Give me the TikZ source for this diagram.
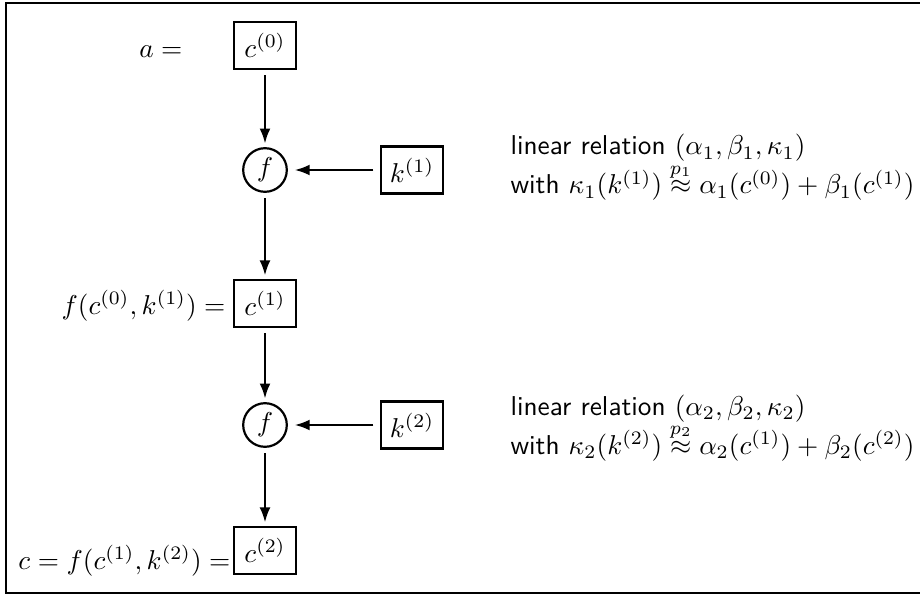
\documentclass[tikz,border=0pt]{standalone}
\usepackage{amsmath}
\usetikzlibrary{arrows.meta}
\begin{document}
\begin{tikzpicture}[x=0.3667pt,y=-0.3667pt,
  box/.style={draw,line width=0.8pt,minimum width=23pt,minimum height=17.2pt,inner sep=2pt},
  fnode/.style={draw,circle,line width=0.8pt,inner sep=1.2pt,minimum size=16pt},
  flow/.style={line width=0.8pt,-{Latex[length=5.5pt,width=4pt]},shorten <=2pt,shorten >=1.3pt},
  side/.style={line width=0.8pt,-{Latex[length=5.5pt,width=4pt]},shorten <=2.3pt,shorten >=2.5pt},
  lab/.style={anchor=base east,inner sep=0pt},
  rel/.style={anchor=base west,inner sep=0pt,font=\sffamily}]
\useasboundingbox (0,0) rectangle (920,597);
\clip (0,0) rectangle (920,597);
\draw[line width=0.8pt] (6,3) rectangle (960,593);

\node[box] (c0) at (265,45.5) {$c^{(0)}$};
\node[fnode] (f1) at (265,170) {$f$};
\node[box] (k1) at (412,170) {$k^{(1)}$};
\node[box] (c1) at (265,303.5) {$c^{(1)}$};
\node[fnode] (f2) at (265,425) {$f$};
\node[box] (k2) at (412,425) {$k^{(2)}$};
\node[box] (c2) at (265,550.5) {$c^{(2)}$};

\node[lab] (l0) at (183,58) {$a =$};
\node[lab] (l1) at (226,314) {$f(c^{(0)},k^{(1)}) =$};
\node[lab] (l2) at (231,569) {$c = f(c^{(1)},k^{(2)}) =$};

\draw[flow] (c0) -- (f1);
\draw[flow] (f1) -- (c1);
\draw[flow] (c1) -- (f2);
\draw[flow] (f2) -- (c2);
\draw[side] (k1) -- (f1);
\draw[side] (k2) -- (f2);

\node[rel] (r1a) at (510,155) {linear relation $(\alpha_1,\beta_1,\kappa_1)$};
\node[rel] (r1b) at (510,194) {with $\kappa_1(k^{(1)}) \stackrel{p_1}{\approx} \alpha_1(c^{(0)}) + \beta_1(c^{(1)})$};
\node[rel] (r2a) at (510,415) {linear relation $(\alpha_2,\beta_2,\kappa_2)$};
\node[rel] (r2b) at (510,454) {with $\kappa_2(k^{(2)}) \stackrel{p_2}{\approx} \alpha_2(c^{(1)}) + \beta_2(c^{(2)})$};
\end{tikzpicture}
\end{document}
